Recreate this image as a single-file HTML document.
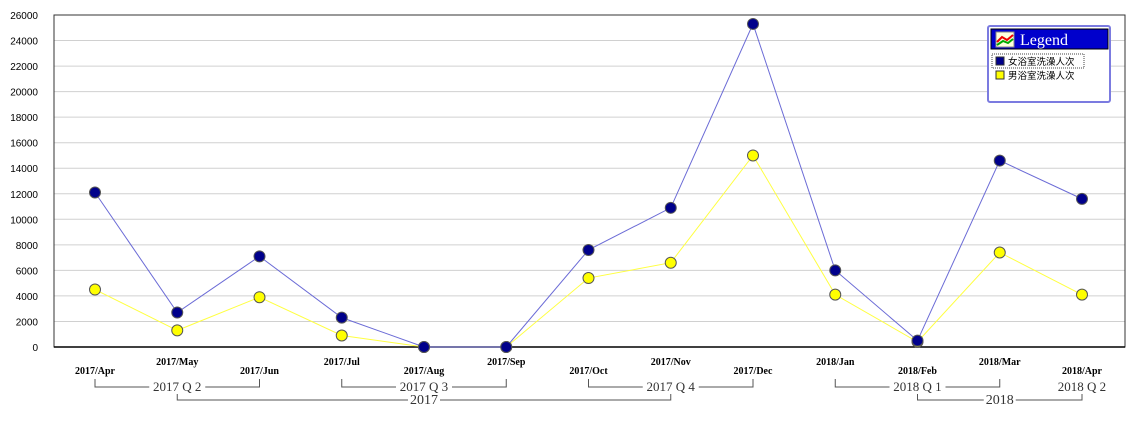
<!DOCTYPE html>
<html><head><meta charset="utf-8"><style>
body{margin:0;background:#fff;width:1140px;height:418px;overflow:hidden}
svg text{font-family:"Liberation Sans","Noto Sans CJK SC",sans-serif}
svg text.serif{font-family:"Liberation Serif","Noto Serif CJK SC",serif}
</style></head><body>
<svg id="chart" width="1140" height="418"></svg>
<script>
const categories=["2017/Apr","2017/May","2017/Jun","2017/Jul","2017/Aug","2017/Sep","2017/Oct","2017/Nov","2017/Dec","2018/Jan","2018/Feb","2018/Mar","2018/Apr"];
const femaleValues=[12100,2700,7100,2300,0,0,7600,10900,25300,6000,500,14600,11600];
const maleValues=[4500,1300,3900,900,0,0,5400,6600,15000,4100,400,7400,4100];
const yTicks=[0,2000,4000,6000,8000,10000,12000,14000,16000,18000,20000,22000,24000,26000];
const quarters=[{label:"2017 Q 2",from:0,to:2},{label:"2017 Q 3",from:3,to:5},{label:"2017 Q 4",from:6,to:8},{label:"2018 Q 1",from:9,to:11},{label:"2018 Q 2",from:12,to:12}];
const years=[{label:"2017",from:1,to:7},{label:"2018",from:10,to:12}];

const svg=document.getElementById('chart');
const NS='http://www.w3.org/2000/svg';
const L=54,R=1125,T=15,B=347;
const x=i=>95+i*(1082-95)/(categories.length-1);
const y=v=>B-(v/26000)*(B-T);
function el(tag,attrs,parent){const e=document.createElementNS(NS,tag);for(const k in attrs)e.setAttribute(k,attrs[k]);(parent||svg).appendChild(e);return e;}

yTicks.forEach(v=>{
  if(v>0&&v<26000){const g=el('line',{x1:L,x2:R,y1:y(v),y2:y(v),stroke:'#d0d0d0','stroke-width':1});
  
  }
  const t=el('text',{x:L-16,y:y(v)+4,'text-anchor':'end','font-size':10,fill:'#000'});
  t.textContent=v;
  
  
});
const frame=el('rect',{x:L,y:T,width:R-L,height:B-T,fill:'none',stroke:'#333','stroke-width':1});


el('line',{x1:L,x2:R,y1:B,y2:B,stroke:'#000','stroke-width':1.5});

function series(vals,lineColor,fill,name){
  const p=el('polyline',{points:vals.map((v,i)=>x(i)+','+y(v)).join(' '),fill:'none',stroke:lineColor,'stroke-width':1});
  
  
  vals.forEach((v,i)=>{
    const c=el('circle',{cx:x(i),cy:y(v),r:5.5,fill:fill,stroke:'#555','stroke-width':1});
    
    
  });
}
series(maleValues,'#ffff40','#ffff00','male-series');
series(femaleValues,'#6b6bd6','#00008b','female-series');

categories.forEach((c,i)=>{
  const t=el('text',{x:x(i),y:i%2===0?374:365,'text-anchor':'middle','font-size':10,'font-weight':'bold',fill:'#000',class:'serif'});
  t.textContent=c;
  
  
});
function bracket(g,yLine,yTop,fs,name){
  const x1=x(g.from),x2=x(g.to),cx=(x1+x2)/2;
  if(g.from!==g.to){
    const p=el('polyline',{points:`${x1},${yTop} ${x1},${yLine} ${x2},${yLine} ${x2},${yTop}`,fill:'none',stroke:'#555','stroke-width':1});
    
    
  }
  const w=g.label.length*fs*0.5+4;
  el('rect',{x:cx-w/2,y:yLine-7,width:w,height:14,fill:'#fff'});
  const t=el('text',{x:cx,y:yLine+4,'text-anchor':'middle','font-size':fs,fill:'#333',class:'serif'});
  t.textContent=g.label;
  
  
}
years.forEach(g=>bracket(g,400,387,14,'year'));
quarters.forEach(g=>bracket(g,387,379,13,'quarter'));

const lg=el('g',{});


el('rect',{x:988,y:26,width:122,height:76,fill:'#fff',stroke:'#7b7be0','stroke-width':2,rx:2},lg);
el('rect',{x:991,y:29,width:117,height:20,fill:'#0000cc',stroke:'#000','stroke-width':1},lg);
el('rect',{x:996,y:32,width:18,height:15,fill:'#ffd',stroke:'#888'},lg);
el('polyline',{points:'997,42 1002,37 1007,40 1013,35',stroke:'#e00',fill:'none','stroke-width':2},lg);
el('polyline',{points:'997,45 1003,41 1008,43 1013,39',stroke:'#0a0',fill:'none','stroke-width':2},lg);
const lt=el('text',{x:1020,y:45,'font-size':16,fill:'#fff',class:'serif'},lg);lt.textContent='Legend';
el('rect',{x:992,y:54,width:92,height:14,fill:'none',stroke:'#444','stroke-dasharray':'1,1'},lg);
el('rect',{x:996,y:57,width:8,height:8,fill:'#00008b',stroke:'#333'},lg);
const t1=el('text',{x:1008,y:65,'font-size':9.5,fill:'#000'},lg);t1.textContent='女浴室洗澡人次';


el('rect',{x:996,y:71,width:8,height:8,fill:'#ffff00',stroke:'#333'},lg);
const t2=el('text',{x:1008,y:79,'font-size':9.5,fill:'#000'},lg);t2.textContent='男浴室洗澡人次';


</script>
</body></html>
